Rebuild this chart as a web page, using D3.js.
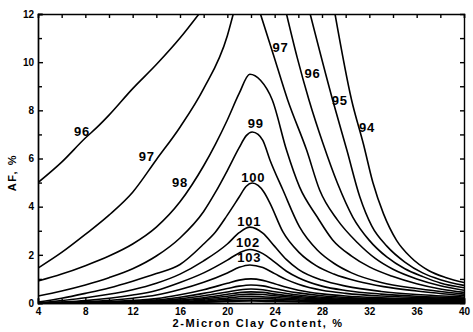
<!DOCTYPE html>
<html>
<head>
<meta charset="utf-8">
<script src="https://cdn.jsdelivr.net/npm/d3@7"></script>
<style>
  body { margin: 0; background: #fff; }
  svg { display: block; font-family: "Liberation Sans", Arial, sans-serif; }
  .tick text { font-size: 10px; font-weight: bold; fill: #000; }
  .domain, .tick line { stroke: #000; stroke-width: 1.4px; }
  .contour { fill: none; stroke: #000; stroke-width: 1.6px; }
  .lbl { font-size: 13px; font-weight: bold; letter-spacing: 0.8px; }
  .title { font-size: 11px; font-weight: bold; letter-spacing: 1.6px; }
</style>
</head>
<body>
<div id="cont"></div>
<script>

// contour lines: [clay %, AF %]
// lines that run off the top are kept as two pieces (a = left, b = right)
var c94 = [[29.1,12],[30.5,8.43],[31.5,6.6],[32.3,5.0],[33.2,3.7],[34.3,2.6],[35.5,1.9],[37,1.35],[38.5,1.05],[40,0.85]];
var c95 = [[27.0,12],[28.9,8.43],[30.1,6.35],[31.2,4.4],[32.2,3.2],[33.5,2.35],[35,1.7],[36.5,1.25],[38,0.97],[40,0.73]];
var c96a = [[4,5.0],[6,5.85],[8,6.85],[9,7.3],[10,7.8],[12,8.9],[14,9.9],[16,11.0],[17.6,12]];
var c96b = [[25.0,12],[25.9,10.2],[26.9,8.43],[28.1,6.6],[29.3,4.98],[30.6,3.57],[32,2.6],[33.5,1.9],[35,1.42],[36.5,1.1],[38,0.83],[40,0.63]];
var c97a = [[4,1.45],[6,2.1],[8,2.85],[10,3.65],[12,4.6],[14,5.95],[16,7.3],[18,8.9],[20,11.1],[20.5,12]];
var c97b = [[22.8,12],[23.9,10.3],[25.1,8.43],[26.7,6.35],[27.8,4.69],[29.3,3.45],[31,2.5],[32.5,1.85],[34,1.4],[36,1.0],[38,0.72],[40,0.53]];
var c98 = [[4,0.91],[6,1.2],[8,1.55],[10,1.95],[12,2.45],[14,3.15],[16,4.2],[17,4.9],[18,5.7],[19,6.6],[20,7.6],[21,8.7],[21.9,9.5],
           [22.8,9.25],[23.8,8.43],[25.0,6.35],[26.1,4.82],[27.6,3.57],[28.9,2.62],[30.5,1.95],[32,1.5],[34,1.1],[36,0.8],[38,0.58],[40,0.44]];
var c99 = [[4,0.29],[6,0.5],[8,0.75],[10,1.05],[12,1.42],[14,1.95],[16,2.7],[18,3.8],[19,4.6],[20,5.5],[21,6.45],[21.6,6.95],[22.1,7.1],
           [22.6,7.0],[23,6.75],[23.6,5.94],[24.7,4.69],[26.1,3.16],[27.6,2.2],[29,1.65],[30.5,1.25],[33,0.85],[36,0.6],[40,0.37]];
var c100 = [[4,0.04],[6,0.2],[8,0.4],[10,0.62],[12,0.9],[14,1.22],[16,1.6],[18,2.45],[19,2.95],[20,3.65],[21,4.4],[21.6,4.85],[22.1,4.98],
            [22.6,4.88],[23.1,4.6],[23.6,4.15],[24.7,2.95],[26.1,2.08],[27.5,1.55],[29,1.2],[31,0.9],[33.2,0.68],[36,0.5],[40,0.31]];
var c101 = [[4,0],[8,0.22],[12,0.55],[14,0.82],[16,1.2],[18,1.75],[20,2.45],[21,2.92],[21.9,3.15],
            [23,2.9],[24,2.35],[25,1.8],[26,1.4],[28,0.95],[30,0.7],[33,0.48],[36,0.35],[40,0.25]];
var c102 = [[4,0],[8,0.1],[12,0.33],[14,0.52],[16,0.85],[18,1.25],[20,1.78],[21,2.08],[21.9,2.22],
            [23,2.05],[24,1.7],[25,1.32],[26,1.05],[28,0.7],[30,0.52],[33,0.37],[36,0.28],[40,0.21]];
var c103 = [[4,0],[8,0.05],[12,0.2],[14,0.33],[16,0.56],[18,0.86],[20,1.25],[21,1.48],[21.9,1.58],
            [23,1.47],[24,1.22],[25,0.97],[26,0.78],[28,0.53],[30,0.4],[33,0.29],[36,0.23],[40,0.18]];
var c104 = [[4,0],[10,0.06],[14,0.18],[16,0.34],[18,0.55],[20,0.82],[21,0.95],[22,1.0],
            [23,0.94],[24,0.8],[25,0.65],[26,0.53],[28,0.38],[30,0.29],[33,0.22],[36,0.18],[40,0.15]];
var c105 = [[4,0],[10,0.04],[14,0.12],[16,0.24],[18,0.4],[20,0.6],[21,0.7],[22,0.75],
            [23,0.71],[24,0.6],[25,0.5],[26,0.42],[28,0.3],[30,0.23],[33,0.18],[36,0.15],[40,0.13]];
var c106 = [[4,0],[12,0.05],[16,0.17],[18,0.3],[20,0.46],[21,0.54],[22,0.58],
            [23,0.55],[24,0.47],[26,0.33],[28,0.24],[30,0.19],[34,0.14],[40,0.11]];
var c107 = [[4,0],[12,0.03],[16,0.12],[18,0.22],[20,0.36],[21,0.43],[22,0.46],
            [23,0.44],[24,0.37],[26,0.27],[28,0.2],[30,0.16],[34,0.12],[40,0.09]];
var c108 = [[4,0],[14,0.05],[16,0.08],[18,0.17],[20,0.28],[21,0.34],[22,0.37],
            [23,0.35],[24,0.3],[26,0.22],[28,0.16],[32,0.11],[40,0.07]];
var c109 = [[4,0],[16,0.05],[18,0.12],[20,0.21],[22,0.28],[23,0.26],[25,0.2],[28,0.13],[32,0.09],[40,0.05]];
var c110 = [[8,0],[16,0.03],[18,0.08],[20,0.15],[22,0.2],[23,0.19],[25,0.14],[28,0.09],[32,0.06],[40,0.03]];
var c111 = [[12,0],[18,0.05],[20,0.09],[22,0.12],[24,0.1],[28,0.05],[34,0.02],[40,0.01]];
var c112 = [[14,0],[18,0.03],[20,0.06],[22,0.08],[24,0.06],[28,0.03],[40,0.01]];

var contours = [c94, c95, c96a, c96b, c97a, c97b, c98, c99, c100, c101, c102, c103,
                c104, c105, c106, c107, c108, c109, c110, c111, c112];

// contour labels and where they sit (clay %, AF %)
var labelText = ["96", "97", "98", "99", "100", "101", "102", "103", "97", "96", "95", "94"];
var labelAt = [[7.72,7.14],[13.2,6.1],[16.0,5.0],[22.4,7.48],[22.2,5.2],[21.85,3.4],[21.75,2.5],[21.85,1.88],
               [24.5,10.6],[27.2,9.55],[29.5,8.43],[31.8,7.31]];

var xMajor = [4, 8, 12, 16, 20, 24, 28, 32, 36, 40];
var yMajor = [0, 2, 4, 6, 8, 10, 12];

// set the dimensions and margins of the graph
var margin = {top: 14, right: 9, bottom: 29, left: 38},
    width = 473 - margin.left - margin.right,
    height = 332 - margin.top - margin.bottom;

var x = d3.scaleLinear().domain([4, 40]).range([0, width]);
var y = d3.scaleLinear().domain([0, 12]).range([height, 0]);

var svg = d3.select("#cont").append("svg")
    .attr("width", width + margin.left + margin.right)
    .attr("height", height + margin.top + margin.bottom)
  .append("g")
    .attr("transform", "translate(" + margin.left + "," + margin.top + ")");

svg.append("clipPath").attr("id", "plot")
  .append("rect").attr("width", width).attr("height", height);

var line = d3.line()
    .x(function(d) { return x(d[0]); })
    .y(function(d) { return y(d[1]); })
    .curve(d3.curveMonotoneX);

svg.append("g").attr("clip-path", "url(#plot)")
  .selectAll("path")
  .data(contours)
  .enter().append("path")
    .attr("class", "contour")
    .attr("d", line);

// axes, ticks pointing inward
svg.append("g")
    .attr("transform", "translate(0," + height + ")")
    .call(d3.axisBottom(x).tickValues(xMajor).tickSize(-5).tickPadding(5));
svg.append("g")
    .attr("transform", "translate(0," + height + ")")
    .call(d3.axisBottom(x).tickValues(d3.range(6, 40, 4)).tickSize(-4).tickFormat(""));
svg.append("g")
    .call(d3.axisTop(x).tickValues(d3.range(4, 41, 2)).tickSize(-4).tickFormat(""));
svg.append("g")
    .call(d3.axisLeft(y).tickValues(yMajor).tickSize(-5).tickPadding(4));
svg.append("g")
    .call(d3.axisLeft(y).tickValues(d3.range(1, 12, 2)).tickSize(-4).tickFormat(""));
svg.append("g")
    .attr("transform", "translate(" + width + ",0)")
    .call(d3.axisRight(y).tickValues(d3.range(1, 12, 1)).tickSize(-4).tickFormat(""));

svg.selectAll(".tick text").style("font-family", "'Liberation Sans', Arial, sans-serif");

// contour labels
svg.selectAll(".lbl")
    .data(labelText)
  .enter().append("text")
    .attr("class", "lbl")
    .attr("text-anchor", "middle")
    .attr("dy", "0.36em")
    .attr("x", function(d, i) { return x(labelAt[i][0]); })
    .attr("y", function(d, i) { return y(labelAt[i][1]); })
    .text(function(d) { return d; });

// axis titles
svg.append("text")
    .attr("class", "title")
    .attr("text-anchor", "middle")
    .attr("x", 220)
    .attr("y", height + 24)
    .text("2-Micron Clay Content, %");

svg.append("text")
    .attr("class", "title")
    .attr("text-anchor", "middle")
    .attr("transform", "translate(-22," + (height / 2 + 14) + ") rotate(-90)")
    .text("AF, %");

</script>
</body>
</html>
